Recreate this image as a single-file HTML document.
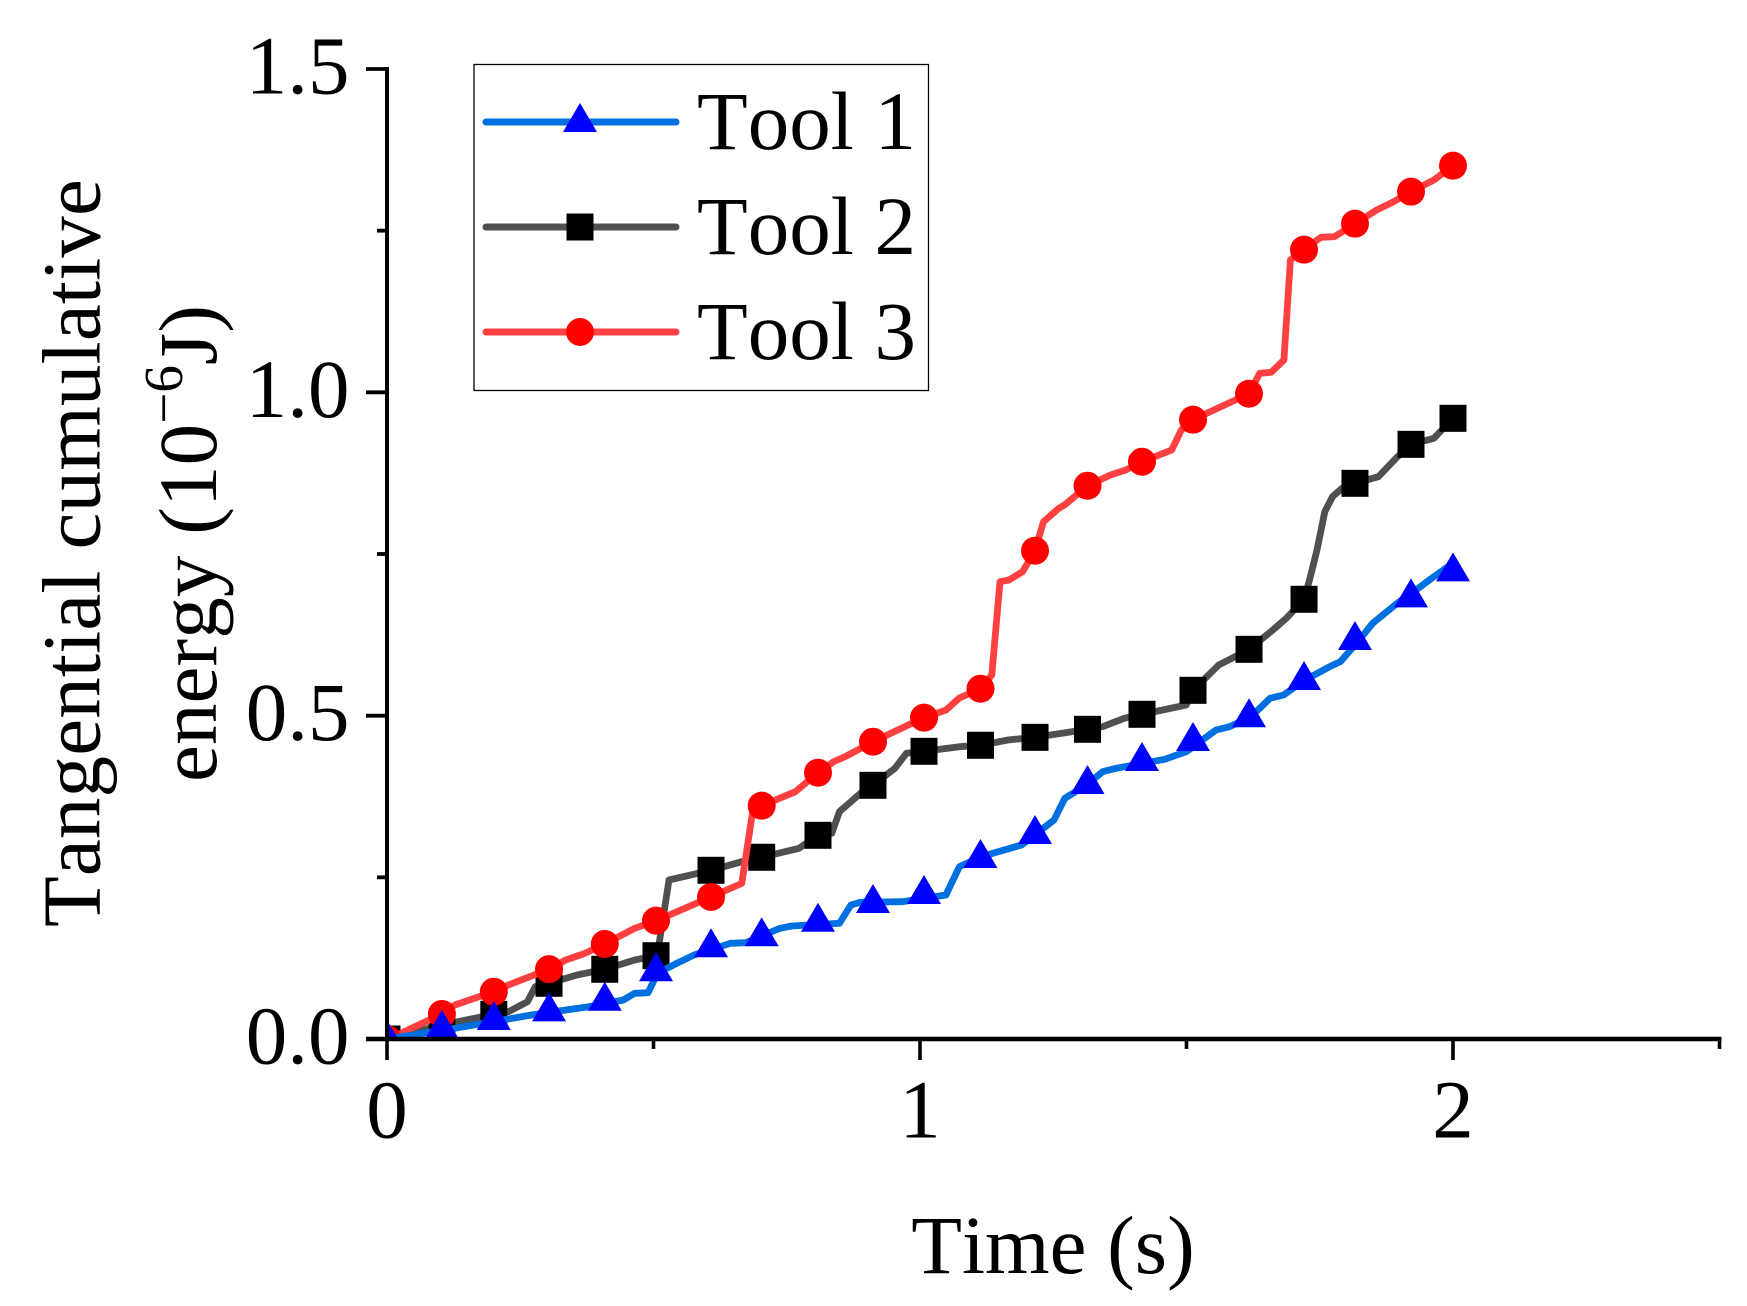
<!DOCTYPE html>
<html lang="en">
<head>
<meta charset="utf-8">
<title>Tangential cumulative energy vs time</title>
<style>
  html, body { margin: 0; padding: 0; background: #fff; }
  svg { display: block; }
  text { font-family: "Liberation Serif", "Times New Roman", serif; fill: #000; font-size: 83px; font-kerning: none; }
</style>
</head>
<body>
<svg id="chart" width="1747" height="1306" viewBox="0 0 1747 1306" xmlns="http://www.w3.org/2000/svg">
  <defs>
    <clipPath id="plot-clip"><rect x="387" y="0" width="1360" height="1039"></rect></clipPath>
  </defs>
  <rect x="0" y="0" width="1747" height="1306" fill="#fff"></rect>
  <g id="series-layer" clip-path="url(#plot-clip)"></g>
  <g id="axis-layer"></g>

  <text x="1053" y="1273" text-anchor="middle">Time (s)</text>
  <text letter-spacing="0.17" transform="translate(99.5 927) rotate(-90)">Tangential cumulative</text>
  <text letter-spacing="0.1" transform="translate(216 782) rotate(-90)">energy (10<tspan font-size="55" dy="-34">−6</tspan><tspan dy="34">J)</tspan></text>

  <g>
    <rect x="474" y="64.5" width="454.5" height="326" fill="#fff" stroke="#000" stroke-width="1.3"></rect>
    <g>
      <line x1="486" y1="122" x2="676" y2="122" stroke="#006fe0" stroke-width="7" stroke-linecap="round"></line>
      <polygon points="580,103 597,132 563,132" fill="#0000ff"></polygon>
      <text x="697" y="149">Tool 1</text>
    </g>
    <g>
      <line x1="486" y1="227" x2="676" y2="227" stroke="#505050" stroke-width="7" stroke-linecap="round"></line>
      <rect x="566.5" y="213.5" width="27" height="27" fill="#000"></rect>
      <text x="697" y="254">Tool 2</text>
    </g>
    <g>
      <line x1="486" y1="332" x2="676" y2="332" stroke="#ff4040" stroke-width="7" stroke-linecap="round"></line>
      <circle cx="580" cy="332" r="14" fill="#ff0000"></circle>
      <text x="697" y="359">Tool 3</text>
    </g>
  </g>
</svg>
<script>
const xTickValues = [0, 0.5, 1, 1.5, 2, 2.5];
const xTickLabels = ["0", "", "1", "", "2", ""];
const yTickValues = [0, 0.25, 0.5, 0.75, 1, 1.25, 1.5];
const yTickLabels = ["0.0", "", "0.5", "", "1.0", "", "1.5"];

const markerTimes = [0, 0.103, 0.2004, 0.304, 0.4086, 0.5047, 0.6079, 0.703, 0.8086, 0.9118, 1.0075, 1.1135, 1.2158, 1.3143, 1.4165, 1.5122, 1.6173, 1.7205, 1.8161, 1.9212, 2];
const tool1Markers = [0, 0.0155, 0.0294, 0.0428, 0.0592, 0.1047, 0.1418, 0.1588, 0.1814, 0.2103, 0.2242, 0.2799, 0.317, 0.3943, 0.4299, 0.4608, 0.4975, 0.5552, 0.617, 0.683, 0.7232];
const tool2Markers = [0, 0.0216, 0.0382, 0.0861, 0.1078, 0.1288, 0.2609, 0.281, 0.315, 0.3923, 0.4449, 0.4542, 0.4665, 0.4789, 0.5021, 0.5392, 0.6026, 0.68, 0.8593, 0.9196, 0.9598];
const tool3Markers = [0, 0.0387, 0.0731, 0.108, 0.147, 0.183, 0.2196, 0.3608, 0.4118, 0.4597, 0.4969, 0.5417, 0.7551, 0.8556, 0.8927, 0.9577, 0.9979, 1.2206, 1.2608, 1.3103, 1.3505];

const tool1Times = [0, 0.0263, 0.1272, 0.1989, 0.2707, 0.3355, 0.3786, 0.4432, 0.4647, 0.4897, 0.5077, 0.5437, 0.576, 0.6443, 0.673, 0.7373, 0.7591, 0.8488, 0.8704, 0.8884, 0.9674, 1.0486, 1.0739, 1.1145, 1.1906, 1.2514, 1.2717, 1.3122, 1.3426, 1.3677, 1.4184, 1.4591, 1.4996, 1.5553, 1.5809, 1.621, 1.6567, 1.6822, 1.7223, 1.7683, 1.7886, 1.8189, 1.8493, 1.8959, 1.9231, 1.9606, 2];
const tool1Values = [0, 0.0036, 0.0165, 0.0268, 0.0371, 0.0448, 0.05, 0.0603, 0.0707, 0.0716, 0.1021, 0.1171, 0.1299, 0.148, 0.1489, 0.1712, 0.1747, 0.1789, 0.2072, 0.2114, 0.2123, 0.2227, 0.2664, 0.2819, 0.3, 0.3387, 0.3722, 0.3928, 0.4134, 0.4186, 0.4263, 0.4325, 0.4443, 0.4778, 0.4829, 0.4984, 0.5268, 0.532, 0.5551, 0.5757, 0.5834, 0.6119, 0.6428, 0.6742, 0.6897, 0.7129, 0.736];

const tool2Times = [0, 0.103, 0.2004, 0.2278, 0.2636, 0.278, 0.304, 0.3565, 0.4086, 0.4647, 0.5047, 0.5077, 0.5291, 0.6079, 0.6657, 0.703, 0.773, 0.8086, 0.8345, 0.8488, 0.8884, 0.9118, 0.9529, 0.9745, 1.0075, 1.0739, 1.1135, 1.1651, 1.2158, 1.2664, 1.3143, 1.3426, 1.3831, 1.4165, 1.4996, 1.5122, 1.5604, 1.591, 1.6173, 1.6619, 1.6872, 1.7205, 1.7308, 1.7448, 1.7595, 1.7739, 1.7917, 1.8161, 1.86, 1.8959, 1.9212, 1.9642, 2];
const tool2Values = [0, 0.0216, 0.0382, 0.0422, 0.0577, 0.0809, 0.0861, 0.099, 0.1078, 0.1222, 0.1288, 0.1325, 0.2459, 0.2609, 0.2742, 0.281, 0.2949, 0.315, 0.3181, 0.3515, 0.38, 0.3923, 0.4186, 0.4418, 0.4449, 0.452, 0.4542, 0.4624, 0.4665, 0.4727, 0.4789, 0.483, 0.4959, 0.5021, 0.5165, 0.5392, 0.5783, 0.5912, 0.6026, 0.6325, 0.6506, 0.68, 0.7098, 0.7562, 0.8154, 0.8386, 0.8516, 0.8593, 0.8696, 0.9005, 0.9196, 0.9289, 0.9598];

const tool3Times = [0, 0.0195, 0.0591, 0.103, 0.1272, 0.2004, 0.2278, 0.304, 0.3355, 0.3715, 0.4086, 0.4647, 0.5047, 0.6079, 0.6657, 0.686, 0.703, 0.7663, 0.8086, 0.8381, 0.8593, 0.9118, 1.0075, 1.0488, 1.0739, 1.1135, 1.1347, 1.1501, 1.167, 1.1923, 1.2158, 1.2317, 1.2604, 1.2713, 1.3143, 1.3574, 1.3861, 1.4165, 1.4722, 1.4902, 1.5122, 1.6173, 1.6373, 1.6589, 1.6828, 1.6949, 1.7205, 1.7523, 1.7775, 1.8161, 1.8565, 1.8887, 1.9212, 1.9642, 2];
const tool3Values = [0, 0.0062, 0.0216, 0.0387, 0.0526, 0.0731, 0.0835, 0.108, 0.1222, 0.1325, 0.147, 0.1712, 0.183, 0.2196, 0.2408, 0.3515, 0.3608, 0.3824, 0.4118, 0.4288, 0.4365, 0.4597, 0.4969, 0.5088, 0.5273, 0.5417, 0.5629, 0.7072, 0.7098, 0.7226, 0.7551, 0.8, 0.8207, 0.8258, 0.8556, 0.8722, 0.8799, 0.8927, 0.9108, 0.9418, 0.9577, 0.9979, 1.0294, 1.031, 1.05, 1.2047, 1.2206, 1.2397, 1.2407, 1.2608, 1.2818, 1.2948, 1.3103, 1.3283, 1.3505];

const NS = "http://www.w3.org/2000/svg";
function xScale(t) { return 387 + t * 533; }
function yScale(v) { return 1039 - v * (970 / 1.5); }

function make(tag, attrs, parent) {
  const el = document.createElementNS(NS, tag);
  for (const k in attrs) el.setAttribute(k, attrs[k]);
  parent.appendChild(el);
  return el;
}

const seriesLayer = document.getElementById("series-layer");
const axisLayer = document.getElementById("axis-layer");

function drawLine(times, values, color, label) {
  const pts = times.map(function (t, i) { return xScale(t).toFixed(1) + "," + yScale(values[i]).toFixed(1); }).join(" ");
  const line = make("polyline", { points: pts, fill: "none", stroke: color, "stroke-width": 6.8, "stroke-linejoin": "round", "stroke-linecap": "round" }, seriesLayer);
  
  
}

function drawSquares(times, values) {
  times.forEach(function (t, i) {
    const m = make("rect", { x: xScale(t) - 13.5, y: yScale(values[i]) - 13.5, width: 27, height: 27, fill: "#000" }, seriesLayer);
    
    
  });
}

function drawCircles(times, values) {
  times.forEach(function (t, i) {
    const m = make("circle", { cx: xScale(t), cy: yScale(values[i]), r: 14, fill: "#ff0000" }, seriesLayer);
    
    
  });
}

function drawTriangles(times, values) {
  times.forEach(function (t, i) {
    const cx = xScale(t), cy = yScale(values[i]);
    const p = cx + "," + (cy - 19) + " " + (cx + 17) + "," + (cy + 10) + " " + (cx - 17) + "," + (cy + 10);
    const m = make("polygon", { points: p, fill: "#0000ff" }, seriesLayer);
    
    
  });
}

drawLine(tool2Times, tool2Values, "#505050", "tool-2");
drawSquares(markerTimes, tool2Markers);
drawLine(tool3Times, tool3Values, "#ff4040", "tool-3");
drawCircles(markerTimes, tool3Markers);
drawLine(tool1Times, tool1Values, "#006fe0", "tool-1");
drawTriangles(markerTimes, tool1Markers);

const yAxisLine = make("line", { x1: 387, y1: yScale(1.5) - 2, x2: 387, y2: 1041, stroke: "#000", "stroke-width": 4 }, axisLayer);



const xAxisLine = make("line", { x1: 366, y1: 1039, x2: xScale(2.5) + 2, y2: 1039, stroke: "#000", "stroke-width": 4.4 }, axisLayer);



xTickValues.forEach(function (t, i) {
  const major = xTickLabels[i] !== "";
  const x = xScale(t);
  const tick = make("line", { x1: x, y1: 1039, x2: x, y2: major ? 1060 : 1049, stroke: "#000", "stroke-width": 3.6 }, axisLayer);
  
  
  if (major) {
    const label = make("text", { x: x, y: 1137.5, "text-anchor": "middle" }, axisLayer);
    label.textContent = xTickLabels[i];
    
    
  }
});

yTickValues.forEach(function (v, i) {
  const major = yTickLabels[i] !== "";
  const y = yScale(v);
  const tick = make("line", { x1: major ? 366 : 377, y1: y, x2: 387, y2: y, stroke: "#000", "stroke-width": 3.8 }, axisLayer);
  
  
  if (major) {
    const label = make("text", { x: 349.5, y: y + 24.5, "text-anchor": "end" }, axisLayer);
    label.textContent = yTickLabels[i];
    
    
  }
});
</script>
</body>
</html>
